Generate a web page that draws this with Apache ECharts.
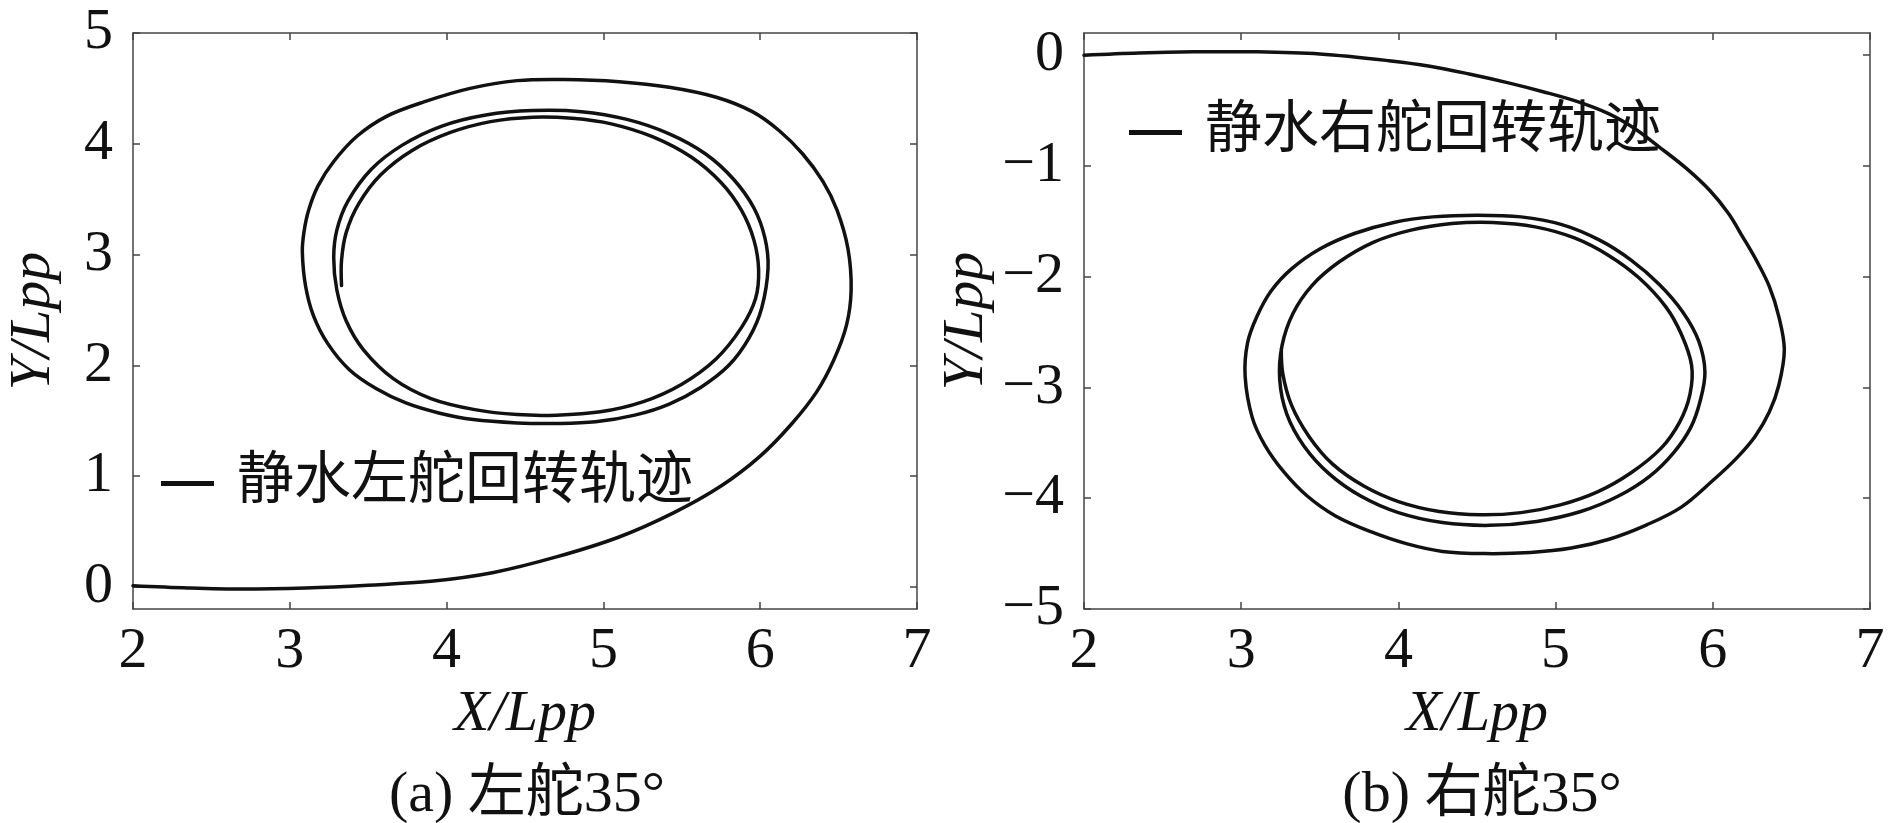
<!DOCTYPE html>
<html><head><meta charset="utf-8">
<script src="https://cdn.jsdelivr.net/npm/echarts@6/dist/echarts.min.js"></script>
<style>html,body{margin:0;padding:0;background:#fff}#chart{width:1890px;height:823px}</style>
</head><body><div id="chart"></div>
<script>
// ---- data (trajectory points in order of travel) ----
const leftX = [
  2.00,2.35,2.70,3.10,3.50,3.90,4.30,4.70,5.10,5.45,5.75,6.00,6.20,6.36,6.47,6.55,6.58,
  6.56,6.49,6.40,6.27,6.12,5.95,5.72,5.42,5.10,4.75,
  4.45,4.15,3.86,3.62,3.43,3.28,3.18,3.12,3.09,3.08,
  3.10,3.15,3.24,3.38,3.55,3.74,3.95,4.17,4.45,4.70,
  4.95,5.20,5.42,5.62,5.80,5.93,6.01,6.05,
  6.03,5.96,5.83,5.65,5.42,5.15,4.86,4.55,
  4.25,3.97,3.72,3.52,3.37,3.30,3.28,
  3.30,3.36,3.47,3.66,3.90,4.18,4.45,4.70,
  4.98,5.25,5.50,5.72,5.88,5.97,5.99,
  5.96,5.88,5.75,5.56,5.32,5.05,4.80,4.55,
  4.28,4.02,3.78,3.58,3.44,3.36,3.33,3.33];
const leftY = [
  0.01,-0.01,-0.02,-0.01,0.015,0.05,0.13,0.27,0.45,0.67,0.91,1.18,1.47,1.76,2.05,2.36,2.68,
  3.05,3.40,3.66,3.91,4.12,4.29,4.42,4.51,4.56,4.58,
  4.57,4.50,4.38,4.25,4.07,3.84,3.62,3.40,3.20,3.02,
  2.72,2.45,2.20,1.96,1.79,1.66,1.57,1.51,1.48,1.475,
  1.49,1.55,1.65,1.80,2.00,2.25,2.52,2.88,
  3.15,3.42,3.68,3.91,4.09,4.22,4.29,4.30,
  4.26,4.16,3.99,3.77,3.48,3.22,2.97,
  2.68,2.40,2.14,1.88,1.70,1.60,1.555,1.55,
  1.58,1.67,1.83,2.06,2.34,2.60,2.86,
  3.13,3.40,3.65,3.88,4.06,4.18,4.23,4.24,
  4.20,4.10,3.94,3.72,3.46,3.20,2.95,2.72];
const rightX = [
  2.00,2.35,2.70,3.10,3.50,3.94,4.20,4.45,4.70,4.92,5.14,5.34,5.50,5.66,5.83,5.98,6.10,6.19,6.28,6.36,6.42,6.455,
  6.42,6.36,6.27,6.15,6.00,5.80,5.58,5.34,5.10,4.84,4.55,
  4.28,4.05,3.82,3.60,3.42,3.27,3.15,3.07,3.025,
  3.04,3.10,3.19,3.32,3.50,3.72,3.97,4.22,4.50,4.78,5.04,5.28,5.48,5.66,5.81,5.91,5.95,
  5.92,5.86,5.75,5.60,5.40,5.16,4.88,4.58,
  4.28,4.00,3.76,3.56,3.40,3.29,3.245,
  3.26,3.33,3.45,3.62,3.84,4.08,4.34,4.60,4.87,5.12,5.34,5.53,5.70,5.80,5.865,
  5.855,5.79,5.67,5.48,5.27,5.03,4.78,4.52,
  4.26,4.00,3.78,3.58,3.43,3.32,3.265,3.255];
const rightY = [
  0.00,0.02,0.03,0.03,0.01,-0.05,-0.10,-0.17,-0.25,-0.33,-0.42,-0.53,-0.66,-0.83,-1.02,-1.22,-1.43,-1.64,-1.86,-2.09,-2.36,-2.66,
  -2.98,-3.22,-3.44,-3.64,-3.84,-4.08,-4.24,-4.37,-4.45,-4.49,-4.50,
  -4.48,-4.41,-4.30,-4.16,-3.98,-3.76,-3.52,-3.27,-2.90,
  -2.60,-2.36,-2.13,-1.93,-1.75,-1.61,-1.51,-1.46,-1.445,-1.46,-1.53,-1.67,-1.85,-2.07,-2.32,-2.58,-2.86,
  -3.12,-3.36,-3.59,-3.80,-3.98,-4.12,-4.21,-4.245,
  -4.22,-4.13,-3.98,-3.78,-3.53,-3.24,-2.93,
  -2.62,-2.33,-2.08,-1.87,-1.69,-1.58,-1.52,-1.51,-1.55,-1.65,-1.81,-2.01,-2.27,-2.52,-2.80,
  -3.06,-3.31,-3.55,-3.77,-3.94,-4.06,-4.13,-4.15,
  -4.12,-4.03,-3.89,-3.69,-3.44,-3.16,-2.88,-2.65];
const xTicks = [2,3,4,5,6,7];
const leftYTicks = [0,1,2,3,4,5];
const rightYTicks = [-5,-4,-3,-2,-1,0];
const leftName = '静水左舵回转轨迹';
const rightName = '静水右舵回转轨迹';
const captions = ['(a) 左舵35°', '(b) 右舵35°'];
const xName = 'X/Lpp', yName = 'Y/Lpp';

// ---- styling ----
const FONT = "'Liberation Serif','Times New Roman','Noto Sans CJK SC',serif";
const AXC = '#444';
const LINE = '#111';
const minus = v => String(v).replace('-', '\u2212');

function xAxis(grid, pos, show) {
  return {
    type: 'value', gridIndex: grid, position: pos, min: 2, max: 7,
    name: show ? xName : '', nameLocation: 'middle', nameGap: 72,
    nameTextStyle: {fontFamily: FONT, fontSize: 58, fontStyle: 'italic', color: '#111'},
    axisLine: {show: true, onZero: false, lineStyle: {color: AXC, width: 1.5}},
    axisTick: {show: true, inside: true, length: 7, customValues: xTicks, lineStyle: {color: AXC, width: 1.5}},
    axisLabel: {show: show, customValues: xTicks, margin: 14, fontFamily: FONT, fontSize: 58, color: '#111'},
    splitLine: {show: false}
  };
}
function yAxis(grid, pos, show, lo, hi, ticks, gap) {
  return {
    type: 'value', gridIndex: grid, position: pos, min: lo, max: hi,
    name: show ? yName : '', nameLocation: 'middle', nameGap: gap, nameRotate: 90,
    nameTextStyle: {fontFamily: FONT, fontSize: 58, fontStyle: 'italic', color: '#111'},
    axisLine: {show: true, onZero: false, lineStyle: {color: AXC, width: 1.5}},
    axisTick: {show: true, inside: true, length: 7, customValues: ticks, lineStyle: {color: AXC, width: 1.5}},
    axisLabel: {show: show, customValues: ticks, margin: 20, fontFamily: FONT, fontSize: 58, color: '#111', formatter: minus},
    splitLine: {show: false}
  };
}
function legend(name, left, top) {
  return {
    data: [name], left: left, top: top, padding: 0, itemWidth: 53, itemHeight: 5,
    icon: 'rect', selectedMode: false,
    textStyle: {fontFamily: FONT, fontSize: 57, color: '#111', padding: [0, 0, 0, 18]}
  };
}
// one smooth polyline through all the trajectory points, placed via the axes' own coordinates
function trackSeries(name, xi, yi, xs, ys) {
  return {
    type: 'custom', name: name, xAxisIndex: xi, yAxisIndex: yi,
    coordinateSystem: 'cartesian2d',
    data: xs.map((x, i) => [x, ys[i]]),
    encode: {x: 0, y: 1},
    itemStyle: {color: LINE},
    renderItem: function (params, api) {
      if (params.dataIndex !== 0) return null;
      const pts = xs.map((x, i) => api.coord([x, ys[i]]));
      return {
        type: 'polyline',
        shape: {points: pts, smooth: 0.35},
        style: {stroke: LINE, lineWidth: 3.5, fill: null, lineJoin: 'round', lineCap: 'round'}
      };
    }
  };
}

const chart = echarts.init(document.getElementById('chart'), null, {renderer: 'canvas'});
chart.setOption({
  animation: false,
  backgroundColor: '#fff',
  grid: [
    {left: 133, top: 33, width: 784, height: 576},
    {left: 1084, top: 33, width: 786, height: 576}
  ],
  xAxis: [xAxis(0, 'bottom', true), xAxis(0, 'top', false), xAxis(1, 'bottom', true), xAxis(1, 'top', false)],
  yAxis: [
    yAxis(0, 'left', true, -0.2, 5, leftYTicks, 70), yAxis(0, 'right', false, -0.2, 5, leftYTicks, 0),
    yAxis(1, 'left', true, -5, 0.2, rightYTicks, 88), yAxis(1, 'right', false, -5, 0.2, rightYTicks, 0)
  ],
  legend: [legend(leftName, 161, 455), legend(rightName, 1129, 104)],
  title: [
    {text: captions[0], left: 522, top: 762, textAlign: 'center',
     textStyle: {fontFamily: FONT, fontSize: 58, fontWeight: 'normal', color: '#111'}},
    {text: captions[1], left: 1477, top: 762, textAlign: 'center',
     textStyle: {fontFamily: FONT, fontSize: 58, fontWeight: 'normal', color: '#111'}}
  ],
  series: [
    trackSeries(leftName, 0, 0, leftX, leftY),
    trackSeries(rightName, 2, 2, rightX, rightY)
  ]
});
</script></body></html>
